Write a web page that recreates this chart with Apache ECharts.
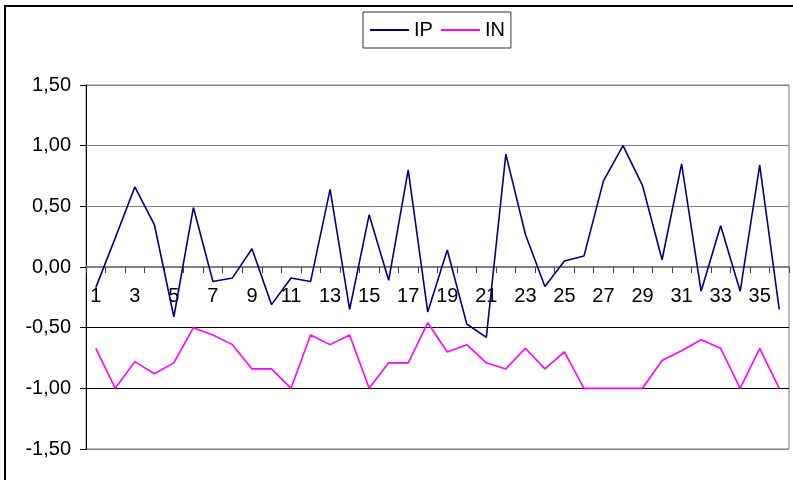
<!DOCTYPE html>
<html>
<head>
<meta charset="utf-8">
<script src="https://cdn.jsdelivr.net/npm/echarts@6/dist/echarts.min.js"></script>
<style>
html,body{margin:0;padding:0;background:#fff;}
#chart{width:793px;height:480px;}
</style>
</head>
<body>
<div id="chart"></div>
<script>
const categories = Array.from({length: 36}, (_, i) => String(i + 1));
const ipValues = [-0.17, 0.24, 0.66, 0.35, -0.41, 0.49, -0.12, -0.09, 0.15, -0.31,
  -0.09, -0.12, 0.64, -0.35, 0.43, -0.11, 0.80, -0.37, 0.14, -0.47,
  -0.58, 0.93, 0.27, -0.16, 0.05, 0.09, 0.71, 1.00, 0.67, 0.06,
  0.85, -0.20, 0.34, -0.20, 0.84, -0.35];
const inValues = [-0.67, -1.00, -0.78, -0.88, -0.79, -0.50, -0.56, -0.64, -0.84, -0.84,
  -1.00, -0.56, -0.64, -0.56, -1.00, -0.79, -0.79, -0.46, -0.70, -0.64,
  -0.79, -0.84, -0.67, -0.84, -0.70, -1.00, -1.00, -1.00, -1.00, -0.77,
  -0.69, -0.60, -0.67, -1.00, -0.67, -1.00];
const seriesNames = ['IP', 'IN'];
const yMin = -1.5, yMax = 1.5, yStep = 0.5;

const font = '"Liberation Sans", Arial, sans-serif';
const gridTop = 85, gridBottom = 31, H = 480;
const plotH = H - gridTop - gridBottom;
const zeroOffset = -plotH * (0 - yMin) / (yMax - yMin);

const chart = echarts.init(document.getElementById('chart'), null, {renderer: 'canvas'});
chart.setOption({
  animation: false,
  backgroundColor: '#fff',
  graphic: [{
    type: 'rect', silent: true, z: -10,
    shape: {x: 5, y: 6, width: 900, height: 600},
    style: {fill: 'none', stroke: '#000', lineWidth: 2}
  }],
  legend: {
    left: 363, top: 12,
    padding: [8, 6, 8, 7],
    borderColor: '#333', borderWidth: 1,
    itemWidth: 39, itemHeight: 2, itemGap: 8,
    icon: 'rect',
    textStyle: {fontFamily: font, fontSize: 20, color: '#000'},
    data: seriesNames
  },
  grid: {
    left: 86, right: 4, top: gridTop, bottom: gridBottom,
    show: true, borderColor: '#808080', borderWidth: 1,
    containLabel: false, outerBoundsMode: 'none'
  },
  xAxis: {
    type: 'category',
    data: categories,
    boundaryGap: true,
    offset: zeroOffset,
    axisLine: {onZero: false, lineStyle: {color: '#808080', width: 2}},
    axisTick: {show: true, interval: 0, length: 6, alignWithLabel: false, lineStyle: {color: '#404040'}},
    axisLabel: {interval: 1, margin: 19, fontFamily: font, fontSize: 20, color: '#000'},
    splitLine: {show: false}
  },
  yAxis: {
    type: 'value',
    min: yMin, max: yMax, interval: yStep,
    axisLine: {show: true, onZero: false, lineStyle: {color: '#000', width: 1}},
    axisTick: {show: true, length: 6, lineStyle: {color: '#000'}},
    axisLabel: {margin: 15, fontFamily: font, fontSize: 20, color: '#000',
      formatter: v => v.toFixed(2).replace('.', ',')},
    splitLine: {show: true, lineStyle: {width: 1,
      color: ['#808080', '#000', '#000', '#808080', '#808080', '#808080', '#808080']}}
  },
  series: [
    {name: seriesNames[0], type: 'line', data: ipValues, symbol: 'none',
      lineStyle: {color: '#000080', width: 1.6}, itemStyle: {color: '#000080'}},
    {name: seriesNames[1], type: 'line', data: inValues, symbol: 'none',
      lineStyle: {color: '#FF00FF', width: 1.6}, itemStyle: {color: '#FF00FF'}}
  ]
});
</script>
</body>
</html>
